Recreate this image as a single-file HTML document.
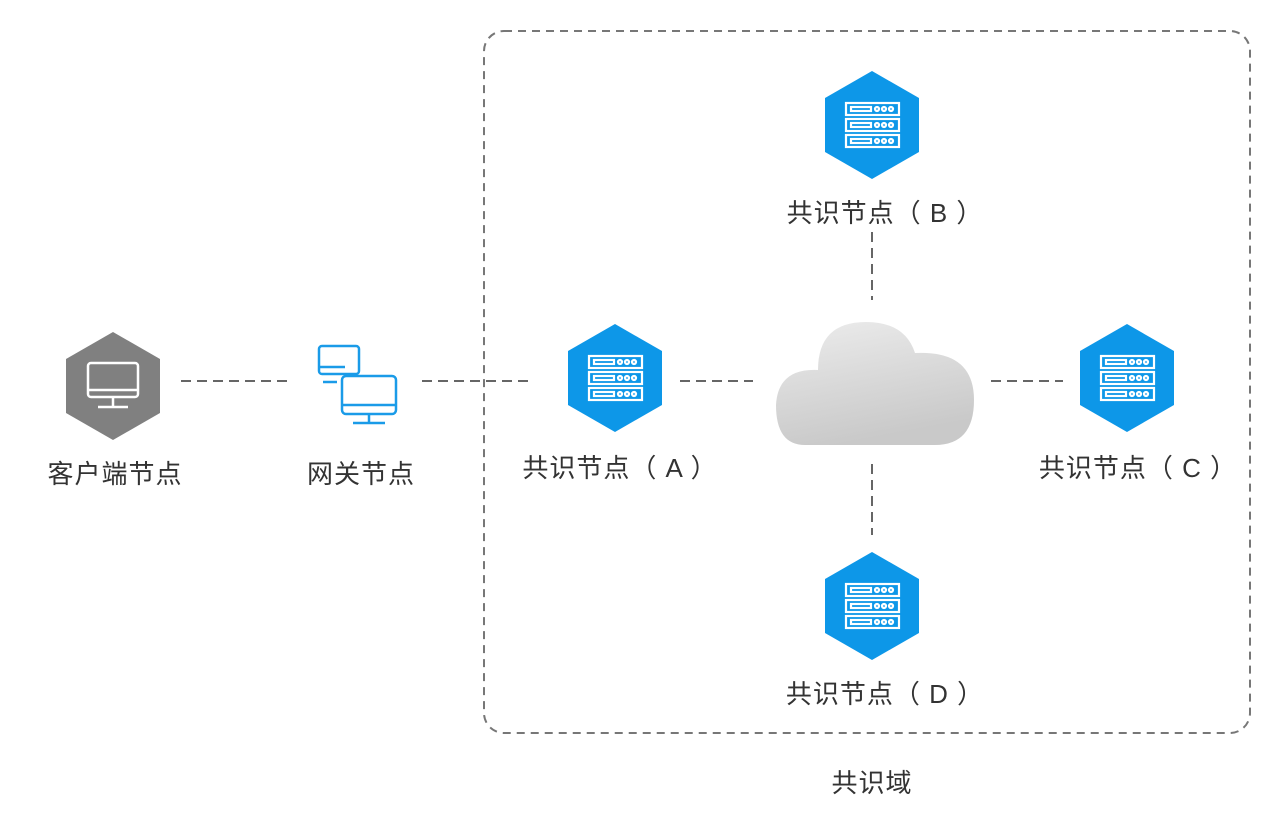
<!DOCTYPE html>
<html><head><meta charset="utf-8"><style>
body{margin:0;background:#fff;width:1277px;height:822px;overflow:hidden;font-family:"Liberation Sans","Noto Sans CJK SC",sans-serif}
.t{position:absolute;font-size:26px;color:#333;transform:translateX(-50%);white-space:nowrap;letter-spacing:1px}
</style></head><body>
<svg width="1277" height="822" style="position:absolute;left:0;top:0">
<defs>
<g id="srv" fill="none" stroke="#fff" stroke-width="2.2">
<rect x="-26" y="-22" width="53" height="12"/><rect x="-26" y="-6" width="53" height="12"/><rect x="-26" y="10" width="53" height="12"/>
<rect x="-21" y="-18" width="20" height="4"/><rect x="-21" y="-2" width="20" height="4"/><rect x="-21" y="14" width="20" height="4"/>
<circle cx="5" cy="-16" r="2"/><circle cx="12" cy="-16" r="2"/><circle cx="19" cy="-16" r="2"/>
<circle cx="5" cy="0" r="2"/><circle cx="12" cy="0" r="2"/><circle cx="19" cy="0" r="2"/>
<circle cx="5" cy="16" r="2"/><circle cx="12" cy="16" r="2"/><circle cx="19" cy="16" r="2"/>
</g>
<polygon id="hex" points="0,-54 47,-27 47,27 0,54 -47,27 -47,-27"/>
<linearGradient id="cg" x1="0" y1="0" x2="0.3" y2="1"><stop offset="0" stop-color="#ececec"/><stop offset="1" stop-color="#c9c9c9"/></linearGradient>
</defs>
<rect x="484" y="31" width="766" height="702" rx="20" fill="none" stroke="#777" stroke-width="2" stroke-dasharray="8,6"/>
<g stroke="#666" stroke-width="2" stroke-dasharray="10,6">
<line x1="181" y1="381" x2="290" y2="381"/><line x1="422" y1="381" x2="530" y2="381"/>
<line x1="680" y1="381" x2="753" y2="381"/><line x1="991" y1="381" x2="1063" y2="381"/>
<line x1="872" y1="232" x2="872" y2="300"/><line x1="872" y1="464" x2="872" y2="535"/>
</g>
<g transform="translate(113,386)"><use href="#hex" fill="#808080"/>
<g fill="none" stroke="#fff" stroke-width="2.5"><rect x="-25" y="-23" width="50" height="34" rx="3"/><line x1="-25" y1="4" x2="25" y2="4"/><line x1="-15" y1="21" x2="15" y2="21"/><line x1="0" y1="11" x2="0" y2="21"/></g></g>
<g fill="none" stroke="#1a9be8" stroke-width="2.5">
<rect x="319" y="346" width="40" height="28" rx="3"/><line x1="319" y1="367" x2="345" y2="367"/><line x1="323" y1="382" x2="337" y2="382"/>
<rect x="342" y="376" width="54" height="38" rx="4"/><line x1="342" y1="405" x2="396" y2="405"/><line x1="369" y1="414" x2="369" y2="422"/><line x1="353" y1="423" x2="385" y2="423"/></g>
<g transform="translate(615,378)"><use href="#hex" fill="#0d97e8"/><use href="#srv"/></g>
<g transform="translate(872,125)"><use href="#hex" fill="#0d97e8"/><use href="#srv"/></g>
<g transform="translate(1127,378)"><use href="#hex" fill="#0d97e8"/><use href="#srv"/></g>
<g transform="translate(872,606)"><use href="#hex" fill="#0d97e8"/><use href="#srv"/></g>
<path d="M805,445 Q776,445 776,405 Q778,368 818,370 Q818,322 866,322 Q905,322 915,353 Q974,350 974,400 Q974,445 935,445 Z" fill="url(#cg)"/>
</svg>
<div class="t" style="left:115px;top:454px">客户端节点</div>
<div class="t" style="left:361px;top:454px">网关节点</div>
<div class="t" style="left:620px;top:448px">共识节点（ A ）</div>
<div class="t" style="left:885px;top:193px">共识节点（ B ）</div>
<div class="t" style="left:1138px;top:448px">共识节点（ C ）</div>
<div class="t" style="left:885px;top:674px">共识节点（ D ）</div>
<div class="t" style="left:872px;top:763px">共识域</div>
</body></html>
